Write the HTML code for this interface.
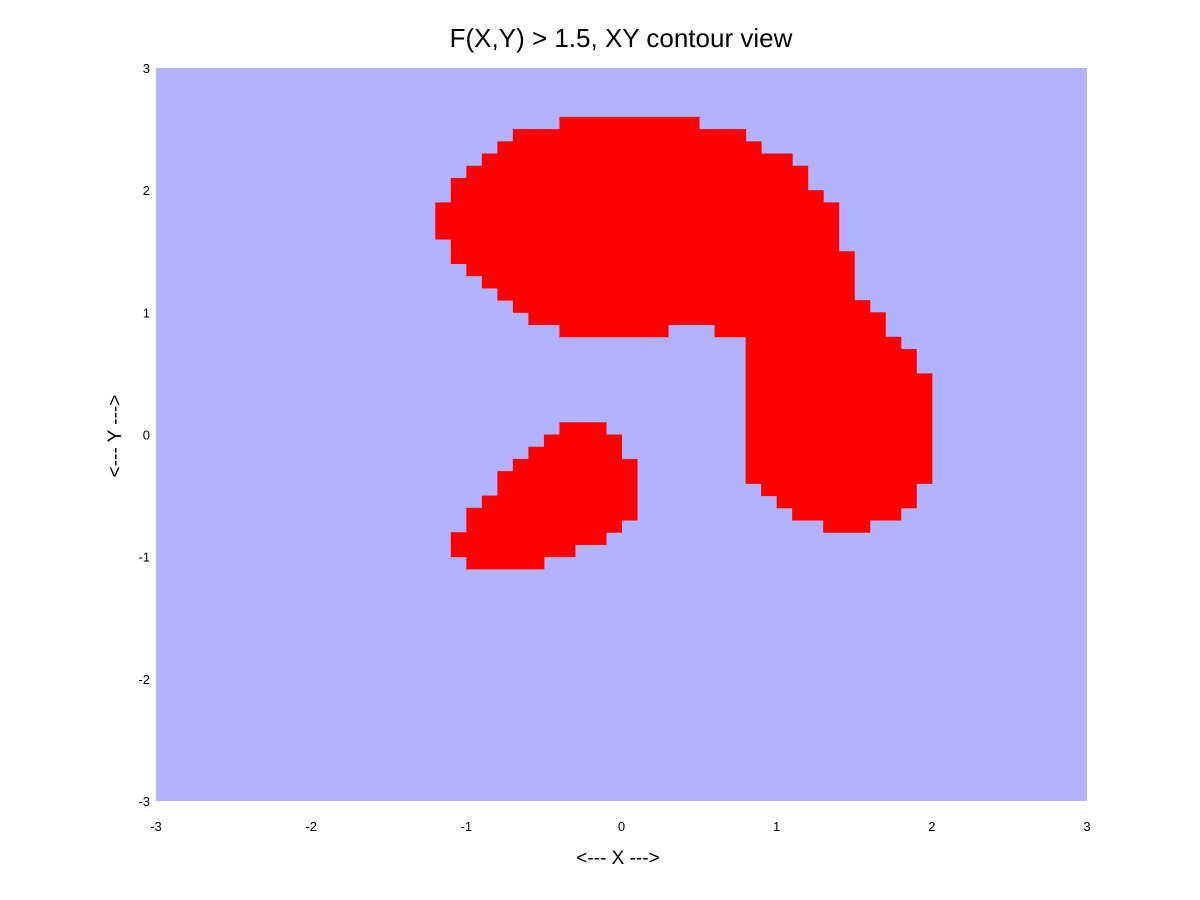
<!DOCTYPE html>
<html><head><meta charset="utf-8"><style>
html,body{margin:0;padding:0;background:#fff;}
svg{display:block;font-family:"Liberation Sans",sans-serif;}
</style></head><body>
<svg id="chart" width="1200" height="900">
<rect x="0" y="0" width="1200" height="900" fill="#fff"/>
<text x="621" y="47" font-size="26" text-anchor="middle">F(X,Y) &gt; 1.5, XY contour view</text>
<rect x="156" y="68" width="931" height="733" fill="#b2b2ff"/>
<g id="cells"></g>
<g id="xt"></g>
<g id="yt"></g>
<text x="618" y="864" font-size="19" text-anchor="middle">&lt;--- X ---&gt;</text>
<text transform="translate(121,436) rotate(-90)" font-size="19" text-anchor="middle">&lt;--- Y ---&gt;</text>
</svg>
<script>
// grid: step 0.1, col index from x=-3, row index from y=3 (top)
const spanRows = [4,5,6,7,8,9,10,11,12,13,14,15,16,17,18,19,20,21,21,22,23,24,25,26,27,28,29,30,31,32,33,34,35,36,37,
  29,30,31,32,33,34,35,36,37,38,39,40];
const spanStart = [26,23,22,21,20,19,19,18,18,18,19,19,20,21,22,23,24,26,36,38,38,38,38,38,38,38,38,38,38,38,38,39,40,41,43,
  26,25,24,23,22,22,21,20,20,19,19,20];
const spanEnd = [34,37,38,40,41,41,42,43,43,43,43,44,44,44,44,45,46,32,46,47,48,48,49,49,49,49,49,49,49,49,49,48,48,47,45,
  28,29,29,30,30,30,30,30,29,28,26,24];
const xTicks = [-3,-2,-1,0,1,2,3];
const yTicks = [3,2,1,0,-1,-2,-3];
const step = 0.1;
const X0=156,X1=1087,Y0=68,Y1=801;
const sx = v => X0 + (v+3)/6*(X1-X0);
const sy = v => Y1 - (v+3)/6*(Y1-Y0);
const NS='http://www.w3.org/2000/svg';
const cells=document.getElementById('cells');
for(let i=0;i<spanRows.length;i++){
  const yTop = 3 - spanRows[i]*step;
  const xL = -3 + spanStart[i]*step, xR = -3 + (spanEnd[i]+1)*step;
  const r=document.createElementNS(NS,'rect');
  r.setAttribute('x',sx(xL)); r.setAttribute('y',sy(yTop));
  r.setAttribute('width',sx(xR)-sx(xL)+0.5); r.setAttribute('height',sy(yTop-step)-sy(yTop)+0.5);
  r.setAttribute('fill','#ff0000');
  
  
  cells.appendChild(r);
}
const xt=document.getElementById('xt');
xTicks.forEach(v=>{
  const t=document.createElementNS(NS,'text');
  t.setAttribute('x',sx(v)); t.setAttribute('y',831);
  t.setAttribute('font-size','13'); t.setAttribute('text-anchor','middle');
  t.textContent=v;
  
  
  xt.appendChild(t);
});
const yt=document.getElementById('yt');
yTicks.forEach(v=>{
  const t=document.createElementNS(NS,'text');
  t.setAttribute('x',150); t.setAttribute('y',sy(v)+5);
  t.setAttribute('font-size','13'); t.setAttribute('text-anchor','end');
  t.textContent=v;
  
  
  yt.appendChild(t);
});
</script>
</body></html>
